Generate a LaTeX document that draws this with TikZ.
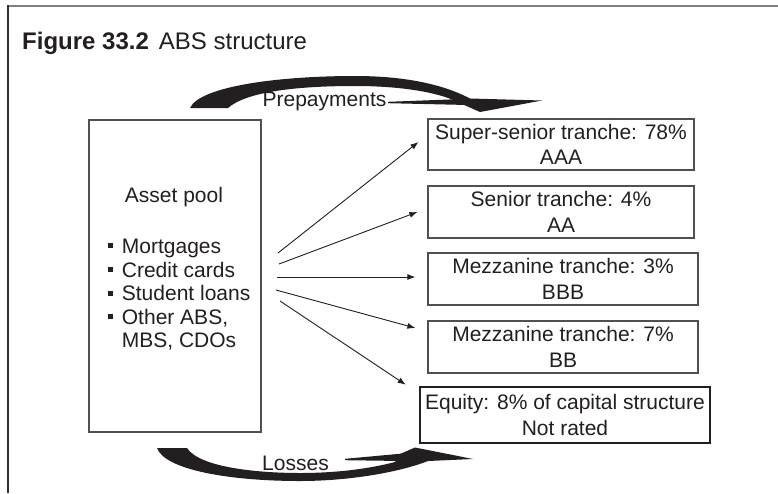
\documentclass[tikz,border=0pt]{standalone}
\usepackage{fontspec}
\setmainfont{Liberation Sans}
\usetikzlibrary{arrows.meta}
\definecolor{ink}{HTML}{231F20}
\definecolor{boxline}{HTML}{505050}
\definecolor{frametop}{HTML}{808080}
\definecolor{frameleft}{HTML}{303030}
\newcommand\bulletsq{\raisebox{5pt}{\rule{5pt}{5pt}}\hspace{9pt}}
\begin{document}
\begin{tikzpicture}[x=1pt,y=-1pt,
  tbox/.style={draw=boxline,line width=1.2pt,inner sep=0pt,align=center,text=ink,font=\fontsize{21}{25.5}\selectfont},
  lbl/.style={inner sep=0pt,text=ink,font=\fontsize{21}{25}\selectfont},
  conn/.style={draw=ink,line width=0.9pt,-{Latex[length=8pt,width=6pt]}},
  bigarrow/.style={fill=ink,draw=none}]
\useasboundingbox (0,0) rectangle (778,493);
\fill[white] (0,0) rectangle (778,493);
\draw[frametop,line width=1.7pt] (7.5,6) -- (778,6);
\draw[frameleft,line width=1.5pt] (8,5.2) -- (8,493);

\node[anchor=base west,inner sep=0pt,text=ink,font=\fontsize{24}{28}\selectfont] (title) at (22,49) {\textbf{Figure 33.2}\hspace{10pt}ABS structure};

% asset pool
\node[draw=boxline,line width=1.5pt,minimum width=172pt,minimum height=312pt,inner sep=0pt] (pool) at (175,276) {};
\node[lbl,anchor=base] (pooltitle) at (174,202) {Asset pool};
\node[lbl,anchor=base west] (b1) at (107.7,253.3) {\bulletsq Mortgages};
\node[lbl,anchor=base west] (b2) at (107.7,277.3) {\bulletsq Credit cards};
\node[lbl,anchor=base west] (b3) at (107.7,300.7) {\bulletsq Student loans};
\node[lbl,anchor=base west] (b4) at (107.7,324.3) {\bulletsq Other ABS,};
\node[lbl,anchor=base west] (b5) at (121.7,347.7) {MBS, CDOs};

% tranches
\node[tbox,minimum width=266pt,minimum height=51pt] (ss) at (561,144.5) {Super-senior tranche: 78\%\\AAA};
\node[tbox,minimum width=266pt,minimum height=52pt] (sen) at (561,212) {Senior tranche: 4\%\\AA};
\node[tbox,minimum width=270pt,minimum height=52pt] (m3) at (563,279) {Mezzanine tranche: 3\%\\BBB};
\node[tbox,minimum width=270pt,minimum height=52pt] (m7) at (563,347) {Mezzanine tranche: 7\%\\BB};
\node[tbox,draw=ink,line width=2.6pt,minimum width=290pt,minimum height=56pt] (eq) at (565,415) {Equity: 8\% of capital structure\\Not rated};

% connectors
\coordinate (s1) at (278,253);
\coordinate (s2) at (279,264);
\coordinate (s3) at (277,277);
\coordinate (s4) at (276,290);
\coordinate (s5) at (280,301);
\draw[conn] (s1) -- ([xshift=-9pt,yshift=2.5pt]ss.west);
\draw[conn] (s2) -- ([xshift=-10pt]sen.west);
\draw[conn] (s3) -- ([xshift=-12pt,yshift=2pt]m3.west);
\draw[conn] (s4) -- ([xshift=-12pt,yshift=19pt]m7.west);
\draw[conn] (s5) -- ([xshift=-13pt,yshift=1pt]eq.north west);

% prepayments arrow
\fill[bigarrow] (190,108) .. controls (200,86) and (280,76) .. (355,76) .. controls (415,76) and (450,88) .. (470,98.5) -- (542,100.5) -- (480,112) -- (462,104) .. controls (440,92) and (400,86) .. (355,86) .. controls (290,86) and (245,93) .. (228,108) -- cycle;
\fill[bigarrow] (388,101.8) -- (468,98.8) -- (468,105) -- (388,103.2) -- cycle;
\node[lbl,anchor=base] (prep) at (324.5,106) {Prepayments};

% losses arrow
\fill[bigarrow] (157,448) -- (187,448) .. controls (200,468) and (260,473) .. (300,473) .. controls (340,473) and (372,468) .. (395,462) -- (400,454) -- (415,447.5) -- (473,459) -- (428,461) .. controls (400,472) and (350,481) .. (300,481) .. controls (230,481) and (165,470) .. (157,448) -- cycle;
\fill[bigarrow] (345,458.8) -- (403,453.5) -- (403,461) -- (345,460.2) -- cycle;
\node[lbl,anchor=base] (losses) at (295.5,470) {Losses};
\end{tikzpicture}
\end{document}
